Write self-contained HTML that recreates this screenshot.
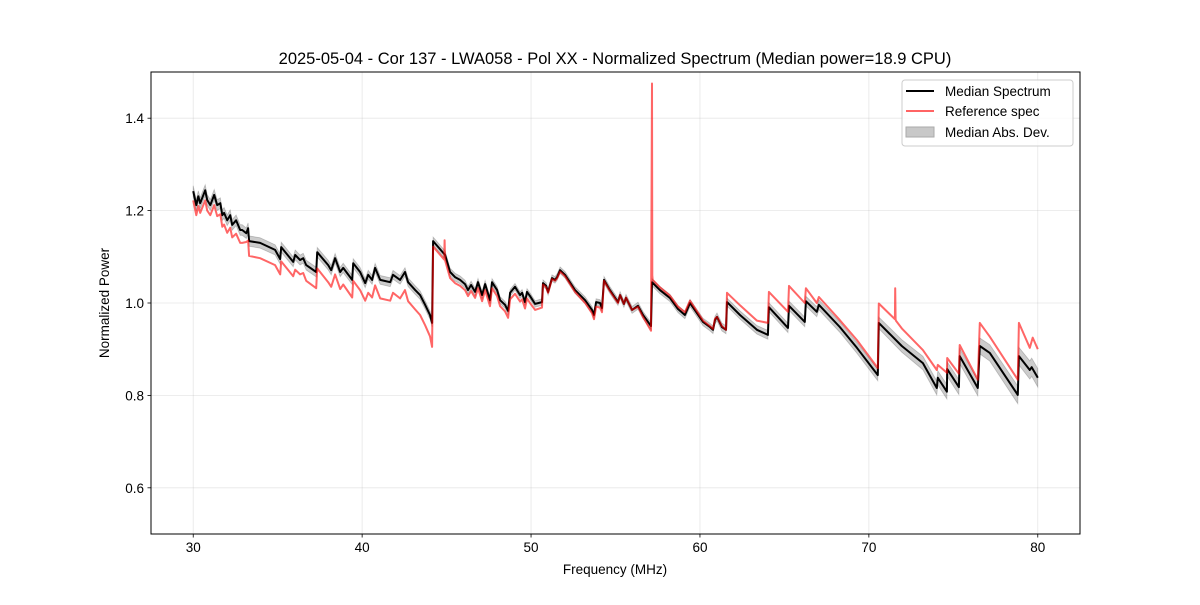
<!DOCTYPE html>
<html><head><meta charset="utf-8"><style>
html,body{margin:0;padding:0;background:#fff;}
svg text{font-family:"Liberation Sans","DejaVu Sans",sans-serif;fill:#000;}
</style></head><body>
<svg id="chart" width="1200" height="600" xmlns="http://www.w3.org/2000/svg">
<rect width="1200" height="600" fill="#fff"/>
<g id="grid"></g>
<g id="band"></g>
<g id="lines"></g>
<rect x="151" y="72" width="929" height="462" fill="none" stroke="#000" stroke-width="1"/>
<g id="ticks"></g>
<text x="615" y="64" text-anchor="middle" font-size="16.5">2025-05-04 - Cor 137 - LWA058 - Pol XX - Normalized Spectrum (Median power=18.9 CPU)</text>
<text x="615" y="574" text-anchor="middle" font-size="13.5">Frequency (MHz)</text>
<text x="109" y="303" text-anchor="middle" font-size="13.5" transform="rotate(-90 109 303)">Normalized Power</text>
<g>
<rect x="902" y="80" width="171" height="66" rx="3" fill="#fff" fill-opacity="0.8" stroke="#ccc"/>
<g><line x1="906" y1="91" x2="934" y2="91" stroke="#000" stroke-width="2"/><text x="945" y="96" font-size="13.5">Median Spectrum</text></g>
<g><line x1="906" y1="111" x2="934" y2="111" stroke="#ff6464" stroke-width="2"/><text x="945" y="116" font-size="13.5">Reference spec</text></g>
<g><rect x="906" y="127" width="28" height="10" fill="#c8c8c8" stroke="#aaa"/><text x="945" y="137" font-size="13.5">Median Abs. Dev.</text></g>
</g>
</svg>
<script>
const xTicks=[30,40,50,60,70,80];
const yTicks=[0.6,0.8,1.0,1.2,1.4];
const medFreq=[30.00,30.18,30.30,30.41,30.71,30.83,31.01,31.24,31.42,31.60,31.72,31.83,32.01,32.19,32.31,32.54,32.78,32.90,33.14,33.25,33.31,33.96,34.85,35.15,35.21,35.92,36.04,36.33,36.51,36.69,37.28,37.34,37.99,38.17,38.40,38.70,38.88,39.41,39.47,39.88,40.18,40.36,40.59,40.77,41.07,41.66,41.83,42.25,42.54,42.72,43.14,43.43,43.73,44.02,44.14,44.20,44.91,45.21,45.50,45.80,46.09,46.27,46.45,46.69,46.86,47.10,47.28,47.57,47.69,47.99,48.17,48.46,48.64,48.76,49.05,49.35,49.47,49.64,49.76,49.94,50.24,50.65,50.71,50.89,51.01,51.24,51.42,51.54,51.72,52.01,52.60,53.20,53.61,53.73,53.85,54.08,54.20,54.32,54.67,55.15,55.27,55.50,55.62,55.98,56.33,56.63,57.10,57.16,57.63,58.22,58.70,59.11,59.41,60.18,60.59,60.77,60.89,61.01,61.30,61.54,61.60,62.37,63.37,64.02,64.08,65.21,65.27,66.21,66.27,66.92,67.04,68.28,69.29,70.53,70.59,71.95,73.20,74.02,74.08,74.62,74.64,75.33,75.38,76.45,76.57,77.16,78.82,78.88,79.53,79.64,80.00];
const medVal=[1.242,1.212,1.231,1.216,1.244,1.223,1.212,1.234,1.212,1.216,1.190,1.195,1.179,1.190,1.169,1.179,1.158,1.158,1.151,1.162,1.134,1.130,1.115,1.095,1.121,1.089,1.104,1.093,1.097,1.082,1.067,1.110,1.082,1.071,1.097,1.067,1.076,1.050,1.086,1.067,1.043,1.061,1.050,1.076,1.050,1.045,1.061,1.050,1.067,1.045,1.028,1.017,0.996,0.974,0.957,1.134,1.104,1.067,1.056,1.050,1.041,1.028,1.039,1.024,1.045,1.017,1.041,1.006,1.045,1.028,1.006,0.996,0.983,1.022,1.035,1.017,1.022,1.002,1.024,1.015,0.998,1.002,1.043,1.037,1.024,1.054,1.050,1.056,1.071,1.061,1.028,1.006,0.985,0.974,1.002,1.000,0.989,1.050,1.028,1.002,1.017,0.998,1.011,0.985,0.994,0.974,0.950,1.045,1.028,1.011,0.987,0.974,1.000,0.959,0.948,0.942,0.963,0.970,0.948,0.942,1.002,0.974,0.942,0.931,0.991,0.946,0.994,0.959,1.004,0.981,0.996,0.948,0.903,0.844,0.957,0.907,0.870,0.816,0.838,0.808,0.857,0.818,0.885,0.816,0.907,0.892,0.801,0.885,0.855,0.861,0.838];
const refFreq=[30.00,30.18,30.30,30.41,30.71,30.83,31.01,31.24,31.42,31.60,31.72,31.83,32.01,32.19,32.31,32.54,32.78,32.90,33.14,33.25,33.31,33.96,34.85,35.15,35.21,35.92,36.04,36.33,36.51,36.69,37.28,37.34,37.99,38.17,38.40,38.70,38.88,39.41,39.47,39.88,40.18,40.36,40.59,40.77,41.07,41.66,41.83,42.25,42.54,42.72,43.14,43.43,43.73,44.02,44.14,44.20,44.86,44.88,44.91,45.21,45.50,45.80,46.09,46.27,46.45,46.69,46.86,47.10,47.28,47.57,47.69,47.99,48.17,48.46,48.64,48.76,49.05,49.35,49.47,49.64,49.76,49.94,50.24,50.65,50.71,50.89,51.01,51.24,51.42,51.54,51.72,52.01,52.60,53.20,53.61,53.73,53.85,54.08,54.20,54.32,54.67,55.15,55.27,55.50,55.62,55.98,56.33,56.63,57.10,57.16,57.18,57.20,57.63,58.22,58.70,59.11,59.41,60.18,60.59,60.77,60.89,61.01,61.30,61.54,61.60,62.37,63.37,64.02,64.08,65.21,65.27,66.21,66.27,66.92,67.04,68.28,69.29,70.53,70.59,71.54,71.56,71.58,71.60,71.95,73.20,74.02,74.08,74.62,74.64,75.33,75.38,76.45,76.57,77.16,78.82,78.88,79.53,79.70,80.00];
const refVal=[1.222,1.190,1.210,1.195,1.222,1.200,1.190,1.212,1.188,1.192,1.165,1.170,1.152,1.163,1.142,1.150,1.130,1.130,1.132,1.135,1.102,1.097,1.082,1.062,1.090,1.058,1.072,1.062,1.065,1.048,1.032,1.075,1.045,1.035,1.062,1.030,1.040,1.012,1.048,1.028,1.005,1.022,1.012,1.038,1.010,1.005,1.022,1.010,1.028,1.004,0.986,0.974,0.952,0.928,0.905,1.122,1.094,1.136,1.092,1.054,1.043,1.037,1.028,1.015,1.026,1.011,1.032,1.004,1.028,0.993,1.032,1.015,0.993,0.982,0.968,1.008,1.020,1.003,1.008,0.988,1.010,1.000,0.985,0.990,1.040,1.034,1.022,1.052,1.048,1.054,1.068,1.058,1.024,1.000,0.978,0.965,0.992,0.990,0.980,1.048,1.026,1.000,1.017,0.998,1.012,0.985,0.992,0.970,0.940,1.475,1.060,1.050,1.034,1.016,0.992,0.980,1.005,0.962,0.950,0.944,0.966,0.970,0.950,0.942,1.022,0.995,0.962,0.957,1.024,0.981,1.037,1.000,1.032,1.000,1.013,0.963,0.920,0.859,0.999,0.965,1.032,0.965,0.962,0.945,0.898,0.855,0.866,0.849,0.881,0.847,0.909,0.834,0.957,0.927,0.834,0.957,0.903,0.925,0.900];
const madFreq=[30,44,50,60,70,80];
const madWidth=[0.012,0.009,0.007,0.008,0.012,0.02];

const NS='http://www.w3.org/2000/svg';
const X0=151,X1=1080,Y0=534,Y1=72,FMIN=27.5,FMAX=82.5,VMIN=0.5,VMAX=1.5;
function xs(f){return X0+(f-FMIN)/(FMAX-FMIN)*(X1-X0);}
function ys(v){return Y0-(v-VMIN)/(VMAX-VMIN)*(Y0-Y1);}
function mk(tag,attrs,parent){const e=document.createElementNS(NS,tag);for(const k in attrs)e.setAttribute(k,attrs[k]);parent.appendChild(e);return e;}
function madAt(f){for(let i=0;i<madFreq.length-1;i++){if(f<=madFreq[i+1]){const t=(f-madFreq[i])/(madFreq[i+1]-madFreq[i]);return madWidth[i]+t*(madWidth[i+1]-madWidth[i]);}}return madWidth[madWidth.length-1];}
const grid=document.getElementById('grid'),ticks=document.getElementById('ticks');
xTicks.forEach(t=>{const x=xs(t);
 const g=mk('line',{x1:x,x2:x,y1:Y1,y2:Y0,stroke:'#b0b0b0','stroke-opacity':0.3,'stroke-width':0.8},grid);
 
 
 const tk=mk('line',{x1:x,x2:x,y1:Y0,y2:Y0+3.5,stroke:'#000','stroke-width':0.8},ticks);
 
 
 const tl=mk('text',{x:x,y:Y0+18,'text-anchor':'middle','font-size':13.5},ticks);tl.textContent=t;
 
 
});
yTicks.forEach(t=>{const y=ys(t);
 const g=mk('line',{x1:X0,x2:X1,y1:y,y2:y,stroke:'#b0b0b0','stroke-opacity':0.3,'stroke-width':0.8},grid);
 
 
 const tk=mk('line',{x1:X0-3.5,x2:X0,y1:y,y2:y,stroke:'#000','stroke-width':0.8},ticks);
 
 
 const tl=mk('text',{x:X0-7,y:y+5,'text-anchor':'end','font-size':13.5},ticks);tl.textContent=t.toFixed(1);
 
 
});
let up=[],dn=[];
medFreq.forEach((f,i)=>{const w=madAt(f);up.push(xs(f).toFixed(1)+','+ys(medVal[i]+w).toFixed(1));dn.unshift(xs(f).toFixed(1)+','+ys(medVal[i]-w).toFixed(1));});
const band=mk('polygon',{points:up.concat(dn).join(' '),fill:'#000','fill-opacity':0.2,stroke:'#000','stroke-opacity':0.2,'stroke-width':0.8},document.getElementById('band'));


const L=document.getElementById('lines');
const m=mk('polyline',{points:medFreq.map((f,i)=>xs(f).toFixed(1)+','+ys(medVal[i]).toFixed(1)).join(' '),fill:'none',stroke:'#000','stroke-width':2,'stroke-linejoin':'round'},L);


const r=mk('polyline',{points:refFreq.map((f,i)=>xs(f).toFixed(1)+','+ys(refVal[i]).toFixed(1)).join(' '),fill:'none',stroke:'#ff0000','stroke-opacity':0.6,'stroke-width':2,'stroke-linejoin':'round'},L);


</script>
</body></html>
